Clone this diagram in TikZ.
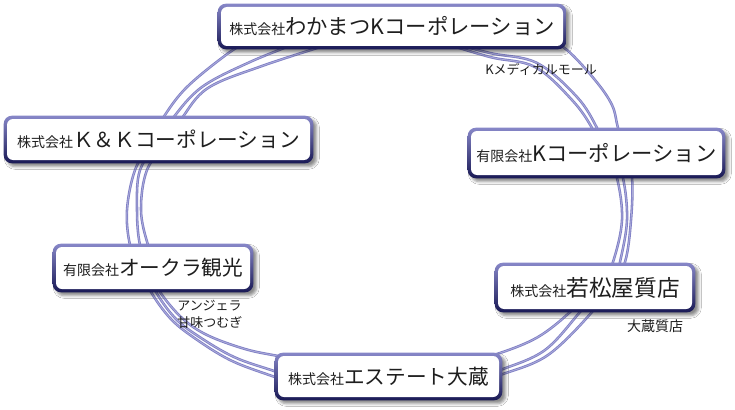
\documentclass[tikz,border=0pt]{standalone}
\usepackage{fontspec}
\setmainfont{Noto Sans CJK JP}
\usetikzlibrary{calc,shadows.blur}
\pgfdeclarelayer{ring}
\pgfdeclarelayer{frame}
\pgfsetlayers{ring,frame,main}
\definecolor{ringcol}{RGB}{128,128,198}
\definecolor{frametop}{RGB}{135,135,200}
\definecolor{framebot}{RGB}{25,25,85}
\definecolor{txt}{RGB}{30,30,30}
\newcommand{\smalltxt}[1]{{\fontsize{10.5}{12}\selectfont #1}}
\begin{document}
\begin{tikzpicture}[x=0.75pt,y=-0.75pt,
  box/.style={fill=white, rounded corners=4.5pt, inner sep=0pt, text=txt,
    font=\fontsize{15.5}{18}\selectfont},
  frame/.style={top color=frametop, bottom color=framebot, rounded corners=6pt,
    blur shadow={shadow xshift=2.5pt, shadow yshift=-2.5pt, shadow blur radius=2pt, shadow opacity=45}},
  lbl/.style={inner sep=0pt, text=txt, font=\fontsize{9.75}{12.75}\selectfont},
  ringline/.style={draw=ringcol, line width=1.9pt, line cap=round,
    postaction={draw=white, draw opacity=0.35, line width=0.6pt}},
  strand/.style={ringline, smooth, tension=0.6}]
\useasboundingbox (0,0) rectangle (735,410);
% boxes
\node[box, font=\fontsize{16}{18}\selectfont, minimum width=256.5pt, minimum height=29.25pt] (T)  at (392,26.5)  {\smalltxt{株式会社}わかまつKコーポレーション};
\node[box, minimum width=227.25pt, minimum height=30.75pt] (KK) at (158.5,139.5) {\smalltxt{株式会社}Ｋ＆Ｋコーポレーション};
\node[box, font=\fontsize{16}{18}\selectfont, minimum width=188.25pt, minimum height=33pt]    (KC) at (596.5,153) {\smalltxt{有限会社}Kコーポレーション};
\node[box, minimum width=145.5pt, minimum height=31.5pt]   (OK) at (153,268) {\smalltxt{有限会社}オークラ観光};
\node[box, font=\fontsize{17}{19}\selectfont, minimum width=145.5pt, minimum height=32.25pt]  (WM) at (595,287.5) {\smalltxt{株式会社}若松屋質店};
\node[box, minimum width=165.75pt, minimum height=30.75pt] (ES) at (388.5,376.5) {\smalltxt{株式会社}エステート大蔵};
% labels
\node[lbl] (L1) at (541,69) {Kメディカルモール};
\node[lbl, align=left, anchor=west] (L2) at (177,314) {アンジェラ\\甘味つむぎ};
\node[lbl, font=\fontsize{10.5}{12}\selectfont] (L3) at (655,326) {大蔵質店};
% frames
\begin{pgfonlayer}{frame}
\foreach \n in {T,KK,KC,OK,WM,ES}
  \path[frame] ($(\n.north west)+(-3,-3)$) rectangle ($(\n.south east)+(3,3)$);
\end{pgfonlayer}
% ring
\begin{pgfonlayer}{ring}
\fill[white] (0,0) rectangle (735,410);
% T - KK
\draw[strand] plot coordinates {(255,38) (230,52) (187,87) (163,118) (152,140)};
\draw[strand] plot coordinates {(300,42) (250,62) (202,87) (173,118) (160,140)};
\draw[strand] plot coordinates {(330,44) (262,66) (208,88) (182,118) (168,140)};
% KK - OK
\draw[strand] plot coordinates {(152,140) (135,170) (127,210) (130,245) (140,268)};
\draw[strand] plot coordinates {(160,140) (140,170) (137,210) (140,245) (150,268)};
\draw[strand] plot coordinates {(168,140) (147,170) (141,210) (148,245) (158,268)};
% OK - ES
\draw[strand] plot coordinates {(150,270) (160,292) (182,318) (207,335) (245,349) (278,356) (310,362)};
\draw[strand] plot coordinates {(142,270) (151,292) (170,318) (193,337) (230,360) (272,376) (300,385)};
\draw[strand] plot coordinates {(147,270) (156,292) (175,318) (198,336) (234,357) (274,371) (300,380)};
% ES - WM
\draw[strand] plot coordinates {(470,360) (500,353) (538,337) (570,312) (588,290)};
\draw[strand] plot coordinates {(480,380) (503,374) (548,355) (592,312) (605,290)};
\draw[strand] plot coordinates {(480,375) (503,369) (545,350) (580,312) (598,290)};
% WM - KC
\draw[strand] plot coordinates {(600,290) (613,262) (622,220) (617,178) (605,150)};
\draw[strand] plot coordinates {(612,290) (620,262) (627,220) (623,178) (612,150)};
\draw[strand] plot coordinates {(610,290) (625,262) (631,220) (632,178) (625,150)};
% KC - T
\draw[strand] plot coordinates {(625,150) (618,128) (612,105) (595,80) (567,50) (545,38)};
\draw[strand] plot coordinates {(605,150) (597,128) (577,97) (537,63) (490,53) (440,40)};
\draw[strand] plot coordinates {(600,150) (592,128) (572,100) (535,67) (490,57) (440,42)};
\end{pgfonlayer}
\end{tikzpicture}
\end{document}
